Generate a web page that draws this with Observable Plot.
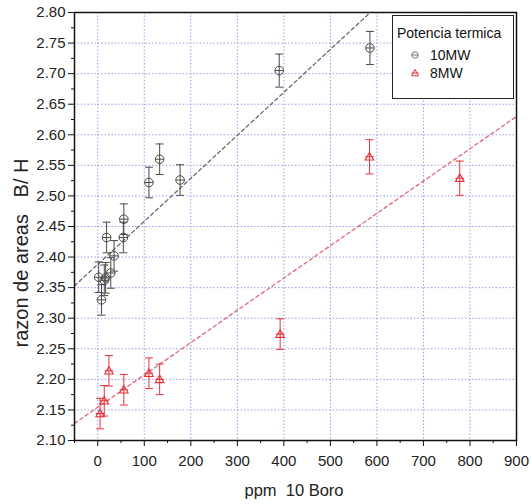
<!DOCTYPE html>
<html>
<head>
<meta charset="utf-8">
<script src="https://cdn.jsdelivr.net/npm/d3@7"></script>
<script src="https://cdn.jsdelivr.net/npm/@observablehq/plot@0.6"></script>
<style>
  html, body { margin: 0; padding: 0; background: #fff; }
  #wrap { position: relative; width: 532px; height: 504px; font-family: "Liberation Sans", Arial, sans-serif; }
  #legend { position: absolute; left: 392px; top: 15px; width: 120px; height: 82px; border: 1px solid #222; background: #fff; box-sizing: content-box; }
  #legend .title { position: absolute; left: 4px; top: 9px; font-size: 14px; color: #111; white-space: nowrap; }
  #legend .item { position: absolute; left: 16px; font-size: 14px; color: #111; white-space: nowrap; display: flex; align-items: center; }
  #legend .item svg { margin-right: 9px; }
</style>
</head>
<body>
<div id="wrap"></div>
<script>
// ---- data ----
const ppm10 = [2, 8, 14, 17, 19, 28, 35, 55, 56, 110, 133, 177, 390, 585];
const razon10 = [2.367, 2.330, 2.362, 2.366, 2.432, 2.374, 2.402, 2.432, 2.462, 2.522, 2.560, 2.526, 2.705, 2.742];
const err10 = [0.025, 0.025, 0.025, 0.025, 0.025, 0.025, 0.025, 0.025, 0.025, 0.025, 0.025, 0.025, 0.027, 0.027];

const ppm8 = [5, 14, 24, 56, 110, 133, 392, 584, 778];
const razon8 = [2.144, 2.165, 2.214, 2.183, 2.210, 2.200, 2.274, 2.564, 2.529];
const err8 = [0.025, 0.025, 0.025, 0.025, 0.025, 0.025, 0.025, 0.028, 0.028];

// fitted dashed lines: endpoints
const fitX = [-50, 900];
const fit10 = [2.353, 3.021];
const fit8 = [2.128, 2.630];

const xTicks = [0, 100, 200, 300, 400, 500, 600, 700, 800, 900];
const xMinor = [-50, 50, 150, 250, 350, 450, 550, 650, 750, 850];
const yTicks = [2.10, 2.15, 2.20, 2.25, 2.30, 2.35, 2.40, 2.45, 2.50, 2.55, 2.60, 2.65, 2.70, 2.75, 2.80];
const yMinor = [2.125, 2.175, 2.225, 2.275, 2.325, 2.375, 2.425, 2.475, 2.525, 2.575, 2.625, 2.675, 2.725, 2.775];

const seriesNames = ["10MW", "8MW"];
const legendTitle = "Potencia termica";
const xLabel = "ppm  10 Boro";
const yLabel = "razon de areas   B/ H";

// ---- tables built from arrays ----
const d10 = ppm10.map((x, i) => ({x, y: razon10[i], e: err10[i]}));
const d8 = ppm8.map((x, i) => ({x, y: razon8[i], e: err8[i]}));
const line10 = fitX.map((x, i) => ({x, y: fit10[i]}));
const line8 = fitX.map((x, i) => ({x, y: fit8[i]}));

const C10 = "#4a4a4a";
const C8 = "#e3343c";

// custom symbols
const circleCross = {
  draw(ctx, size) {
    const r = Math.sqrt(size / Math.PI);
    ctx.moveTo(r, 0); ctx.arc(0, 0, r, 0, 2 * Math.PI);
    ctx.moveTo(-r, 0); ctx.lineTo(r, 0);
  }
};
const triBar = {
  draw(ctx, size) {
    const r = Math.sqrt(size / Math.PI);
    ctx.moveTo(0, -r); ctx.lineTo(r, r * 0.75); ctx.lineTo(-r, r * 0.75); ctx.closePath();
    ctx.moveTo(-r, 0); ctx.lineTo(r, 0);
  }
};
const cap = {
  draw(ctx, size) {
    const r = Math.sqrt(size / Math.PI);
    ctx.moveTo(-r, 0); ctx.lineTo(r, 0);
  }
};

const gridStyle = {stroke: "#8c92e8", strokeOpacity: 0.95, strokeDasharray: "1.4,2", strokeWidth: 1};

const chart = Plot.plot({
  width: 532,
  height: 504,
  marginLeft: 74,
  marginRight: 16,
  marginTop: 12,
  marginBottom: 64,
  style: {fontFamily: "'Liberation Sans', Arial, sans-serif", background: "#fff", color: "#222"},
  x: {domain: [-50, 900]},
  y: {domain: [2.10, 2.80]},
  marks: [
    Plot.gridX(xTicks, gridStyle),
    Plot.gridY(yTicks, gridStyle),
    Plot.line(line10, {x: "x", y: "y", stroke: "#6a6a6a", strokeWidth: 1.3, strokeDasharray: "3.5,3", clip: true}),
    Plot.line(line8, {x: "x", y: "y", stroke: "#e0687a", strokeWidth: 1.3, strokeDasharray: "3.5,3", clip: true}),
    // error bars
    Plot.ruleX(d10, {x: "x", y1: d => d.y - d.e, y2: d => d.y + d.e, stroke: C10, strokeWidth: 1}),
    Plot.dot(d10, {x: "x", y: d => d.y - d.e, symbol: cap, r: 4, stroke: C10, strokeWidth: 1}),
    Plot.dot(d10, {x: "x", y: d => d.y + d.e, symbol: cap, r: 4, stroke: C10, strokeWidth: 1}),
    Plot.ruleX(d8, {x: "x", y1: d => d.y - d.e, y2: d => d.y + d.e, stroke: C8, strokeWidth: 1}),
    Plot.dot(d8, {x: "x", y: d => d.y - d.e, symbol: cap, r: 4, stroke: C8, strokeWidth: 1}),
    Plot.dot(d8, {x: "x", y: d => d.y + d.e, symbol: cap, r: 4, stroke: C8, strokeWidth: 1}),
    // markers
    Plot.dot(d10, {x: "x", y: "y", symbol: circleCross, r: 4.3, stroke: C10, strokeWidth: 1, fill: "none"}),
    Plot.dot(d8, {x: "x", y: "y", symbol: triBar, r: 4.3, stroke: C8, strokeWidth: 1.1, fill: "none"}),
    // axes
    Plot.axisY(yTicks, {tickFormat: d => d.toFixed(2), tickSize: 6, tickPadding: 3, fontSize: 15, label: null, stroke: "#111"}),
    Plot.axisY(yMinor, {tickSize: 3, text: null, label: null, stroke: "#111"}),
    Plot.axisX(xTicks, {tickFormat: d => String(d), tickSize: 6, tickPadding: 9, fontSize: 15, label: null, stroke: "#111"}),
    Plot.axisX(xMinor, {tickSize: 3, text: null, label: null, stroke: "#111"}),
    Plot.frame({stroke: "#111", strokeWidth: 1.5})
  ]
});

const wrap = document.getElementById("wrap");
wrap.appendChild(chart);

const svg = d3.select(chart);
svg.append("text")
  .attr("transform", "translate(28,253) rotate(-90)")
  .attr("text-anchor", "middle")
  .style("font-family", "'Liberation Sans', Arial, sans-serif")
  .style("font-size", "20px")
  .style("white-space", "pre")
  .attr("fill", "#222")
  .text(yLabel);
svg.append("text")
  .attr("x", 294)
  .attr("y", 496)
  .attr("text-anchor", "middle")
  .style("font-family", "'Liberation Sans', Arial, sans-serif")
  .style("font-size", "16.5px")
  .style("white-space", "pre")
  .attr("fill", "#222")
  .text(xLabel);

// legend (inside the plot frame, top-right)
const legend = document.createElement("div");
legend.id = "legend";
const t = document.createElement("div");
t.className = "title";
t.textContent = legendTitle;
legend.appendChild(t);
const symFns = [
  (s) => { s.append("circle").attr("cx", 6).attr("cy", 6).attr("r", 3.2).attr("fill", "none").attr("stroke", "#777");
           s.append("line").attr("x1", 2.8).attr("x2", 9.2).attr("y1", 6).attr("y2", 6).attr("stroke", "#777"); },
  (s) => { s.append("path").attr("d", "M6,2.5L9.5,8.8L2.5,8.8Z").attr("fill", "none").attr("stroke", C8);
           s.append("line").attr("x1", 2.5).attr("x2", 9.5).attr("y1", 6).attr("y2", 6).attr("stroke", C8); }
];
const tops = [31, 49];
seriesNames.forEach((name, i) => {
  const it = document.createElement("div");
  it.className = "item";
  it.style.top = tops[i] + "px";
  const s = d3.create("svg").attr("width", 12).attr("height", 12);
  symFns[i](s);
  it.appendChild(s.node());
  const sp = document.createElement("span");
  sp.textContent = name;
  it.appendChild(sp);
  legend.appendChild(it);
});
wrap.appendChild(legend);
</script>
</body>
</html>
